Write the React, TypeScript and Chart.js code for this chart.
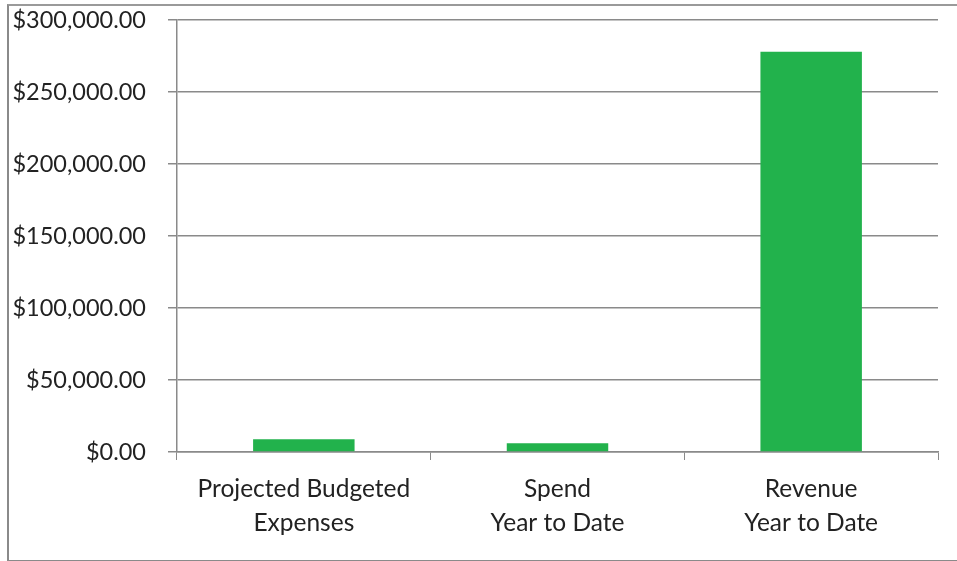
import React, { useEffect, useRef } from "react";
import { Chart, registerables } from "chart.js";

Chart.register(...registerables);

const categories: string[][] = [
  ["Projected Budgeted", "Expenses"],
  ["Spend", "Year to Date"],
  ["Revenue", "Year to Date"],
];
const amounts: number[] = [8800, 6000, 278000];
const yMin = 0;
const yMax = 300000;
const yStep = 50000;

const FONT = "Lato, 'Open Sans', sans-serif";

function formatMoney(v: number): string {
  return "$" + v.toLocaleString("en-US", { minimumFractionDigits: 2, maximumFractionDigits: 2 });
}

export default function App() {
  const ref = useRef<HTMLCanvasElement | null>(null);

  useEffect(() => {
    if (!ref.current) return;
    const chart = new Chart(ref.current, {
      type: "bar",
      data: {
        labels: categories,
        datasets: [
          {
            data: amounts,
            backgroundColor: "#22b24c",
            borderWidth: 0,
            barPercentage: 0.4,
            categoryPercentage: 1,
          },
        ],
      },
      options: {
        animation: false,
        responsive: false,
        maintainAspectRatio: false,
        layout: { padding: { top: 20, right: 19, left: 0, bottom: 0 } },
        plugins: { legend: { display: false }, tooltip: { enabled: false } },
        scales: {
          x: {
            offset: true,
            afterFit: (s: any) => {
              s.height = 109;
              s.paddingLeft = 0;
              s.paddingRight = 0;
            },
            grid: {
              offset: true,
              drawOnChartArea: false,
              drawTicks: true,
              tickLength: 8,
              color: "#8a8a8a",
              lineWidth: 1,
            },
            border: { display: true, color: "#8a8a8a", width: 1.5 },
            ticks: {
              color: "#222",
              font: { family: FONT, size: 24.5, lineHeight: 1.4 },
              padding: 12,
              maxRotation: 0,
              autoSkip: false,
            },
          },
          y: {
            min: yMin,
            max: yMax,
            afterFit: (s: any) => {
              s.width = 177;
              s.paddingTop = 0;
              s.paddingBottom = 0;
            },
            grid: {
              color: "#8a8a8a",
              lineWidth: 1.5,
              tickLength: 9,
            },
            border: { display: true, color: "#8a8a8a", width: 1.5 },
            ticks: {
              stepSize: yStep,
              color: "#222",
              font: { family: FONT, size: 23.5 },
              padding: 22,
              callback: (v: any) => formatMoney(Number(v)),
            },
          },
        },
      },
    });
    return () => chart.destroy();
  }, []);

  return (
    <div style={{ position: "absolute", left: 0, top: 0, width: 957, height: 561, background: "#fff" }}>
      <div
        style={{
          position: "absolute",
          left: 7,
          top: 4,
          width: 950,
          height: 554,
          borderLeft: "2px solid #8a8a8a",
          borderTop: "2px solid #9a9a9a",
          borderBottom: "2px solid #8a8a8a",
        }}
      />
      <canvas ref={ref} width={957} height={561} style={{ position: "absolute", left: 0, top: 0 }} />
    </div>
  );
}
